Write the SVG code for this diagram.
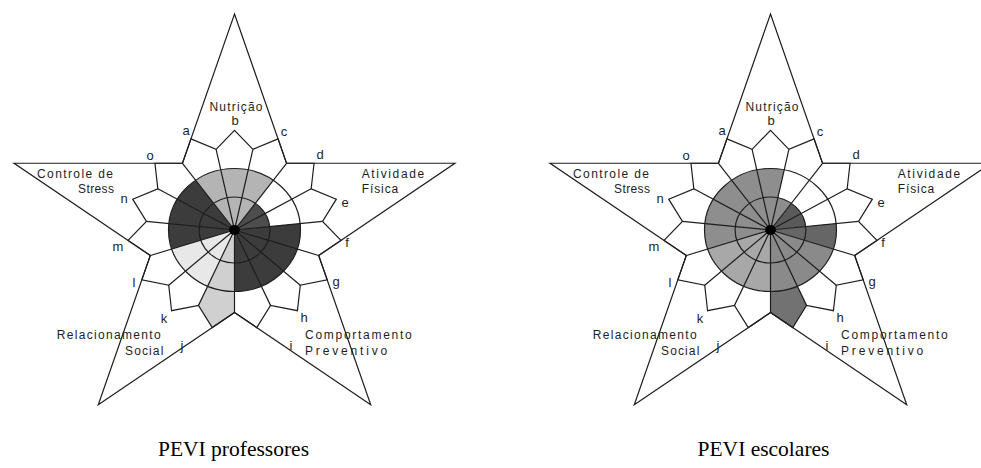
<svg xmlns="http://www.w3.org/2000/svg" width="981" height="468" viewBox="0 0 981 468">
<style>
.ln{fill:none;stroke:#1e1e1e;stroke-width:1.2;vector-effect:non-scaling-stroke;stroke-linejoin:miter}
.dot{fill:#000}
.lt{font-family:"Liberation Sans",Arial,sans-serif;font-size:13px;fill:#1e1e1e;text-anchor:middle}
.cl{font-family:"Liberation Sans",Arial,sans-serif;font-size:12px;fill:#1e1e1e}
.cap{font-family:"Liberation Serif","Times New Roman",serif;font-size:21.5px;fill:#000;text-anchor:middle}
</style>
<defs>
<g id="frame">
<path class="ln" d="M0 -216L48.49 -66.74L205.43 -66.75L78.46 25.49L126.96 174.75L0 82.5L-126.96 174.75L-78.46 25.49L-205.43 -66.75L-48.49 -66.74Z"/>
<path class="ln" d="M-48.49 -66.74L-40.58 -91.14L-17.15 -80.7L0 -99.76L17.15 -80.7L40.58 -91.14L48.49 -66.74L74.14 -66.75L71.45 -41.25L94.88 -30.83L82.05 -8.62L99.21 10.43L78.46 25.49L86.39 49.88L61.31 55.2L58.64 80.71L33.56 75.37L20.74 97.58L0 82.5L-20.74 97.58L-33.56 75.37L-58.64 80.71L-61.31 55.2L-86.39 49.88L-78.46 25.49L-99.21 10.43L-82.05 -8.62L-94.88 -30.83L-71.45 -41.25L-74.14 -66.75Z"/>
<path class="ln" d="M0 0L-48.49 -66.74M0 0L-17.15 -80.7M0 0L17.15 -80.7M0 0L48.49 -66.74M0 0L71.45 -41.25M0 0L82.05 -8.62M0 0L78.46 25.49M0 0L61.31 55.2M0 0L33.56 75.37M0 0L0 82.5M0 0L-33.56 75.37M0 0L-61.31 55.2M0 0L-78.46 25.49M0 0L-82.05 -8.62M0 0L-71.45 -41.25"/>
<circle class="ln" r="33"/>
<circle class="ln" r="61.5"/>
<circle class="dot" r="5"/>
</g>
</defs>
<rect width="981" height="468" fill="#fff"/>

<g id="pentaculo-professores">
<g transform="translate(234.5,230) scale(1.073,1)">
<path fill="#b4b4b4" d="M0 0L-36.15 -49.75A61.5 61.5 0 0 1 36.15 -49.75Z"/>
<path fill="#4d4d4d" d="M0 0L19.4 -26.7A33 33 0 0 1 32.82 -3.45Z"/>
<path fill="#3c3c3c" d="M0 0L61.16 -6.43A61.5 61.5 0 0 1 0 61.5Z"/>
<path fill="#d0d0d0" d="M0 0L0 82.5L-20.74 97.58L-33.56 75.37Z"/>
<path fill="#e8e8e8" d="M0 0L-25.01 56.18A61.5 61.5 0 0 1 -58.49 19Z"/>
<path fill="#3c3c3c" d="M0 0L-58.49 19A61.5 61.5 0 0 1 -36.15 -49.75Z"/>
<use href="#frame"/>
</g>
<g id="itens-professores">
<text class="lt" x="186" y="135">a</text>
<text class="lt" x="235" y="125">b</text>
<text class="lt" x="284" y="136">c</text>
<text class="lt" x="320" y="159">d</text>
<text class="lt" x="345" y="207">e</text>
<text class="lt" x="347" y="247">f</text>
<text class="lt" x="336" y="286">g</text>
<text class="lt" x="304" y="322">h</text>
<text class="lt" x="291" y="350">i</text>
<text class="lt" x="182" y="350">j</text>
<text class="lt" x="164" y="323">k</text>
<text class="lt" x="134" y="287">l</text>
<text class="lt" x="118" y="251">m</text>
<text class="lt" x="124" y="203">n</text>
<text class="lt" x="150" y="160">o</text>
</g>
<g id="componentes-professores">
<text class="cl" x="209.5" y="111" textLength="53" lengthAdjust="spacing">Nutrição</text>
<text class="cl" x="37" y="178" textLength="76" lengthAdjust="spacing">Controle de</text>
<text class="cl" x="78" y="192.5" textLength="36" lengthAdjust="spacing">Stress</text>
<text class="cl" x="361.7" y="178" textLength="62.6" lengthAdjust="spacing">Atividade</text>
<text class="cl" x="361.7" y="193" textLength="36.6" lengthAdjust="spacing">Física</text>
<text class="cl" x="56.7" y="338.5" textLength="104" lengthAdjust="spacing">Relacionamento</text>
<text class="cl" x="125" y="355" textLength="38.3" lengthAdjust="spacing">Social</text>
<text class="cl" x="305" y="339" textLength="106.7" lengthAdjust="spacing">Comportamento</text>
<text class="cl" x="305" y="355" textLength="82.3" lengthAdjust="spacing">Preventivo</text>
</g>
<text class="cap" x="233.5" y="456">PEVI professores</text>
</g>

<g id="pentaculo-escolares">
<g transform="translate(770.5,230) scale(1.073,1)">
<path fill="#8e8e8e" d="M0 0L-36.15 -49.75A61.5 61.5 0 0 1 12.79 -60.16Z"/>
<path fill="#8e8e8e" d="M0 0L6.86 -32.28A33 33 0 0 1 19.4 -26.7Z"/>
<path fill="#5a5a5a" d="M0 0L19.4 -26.7A33 33 0 0 1 32.82 -3.45Z"/>
<path fill="#666666" d="M0 0L61.16 -6.43A61.5 61.5 0 0 1 58.49 19Z"/>
<path fill="#8a8a8a" d="M0 0L58.49 19A61.5 61.5 0 0 1 25.01 56.18Z"/>
<path fill="#727272" d="M0 0L33.56 75.37L20.74 97.58L0 82.5Z"/>
<path fill="#8a8a8a" d="M0 0L25.01 56.18A61.5 61.5 0 0 1 0 61.5Z"/>
<path fill="#a8a8a8" d="M0 0L0 61.5A61.5 61.5 0 0 1 -58.49 19Z"/>
<path fill="#8e8e8e" d="M0 0L-58.49 19A61.5 61.5 0 0 1 -36.15 -49.75Z"/>
<use href="#frame"/>
</g>
<g id="itens-escolares">
<text class="lt" x="722" y="135">a</text>
<text class="lt" x="771" y="125">b</text>
<text class="lt" x="820" y="136">c</text>
<text class="lt" x="856" y="159">d</text>
<text class="lt" x="881" y="207">e</text>
<text class="lt" x="883" y="247">f</text>
<text class="lt" x="872" y="286">g</text>
<text class="lt" x="840" y="322">h</text>
<text class="lt" x="827" y="350">i</text>
<text class="lt" x="718" y="350">j</text>
<text class="lt" x="700" y="323">k</text>
<text class="lt" x="670" y="287">l</text>
<text class="lt" x="654" y="251">m</text>
<text class="lt" x="660" y="203">n</text>
<text class="lt" x="686" y="160">o</text>
</g>
<g id="componentes-escolares">
<text class="cl" x="745.5" y="111" textLength="53" lengthAdjust="spacing">Nutrição</text>
<text class="cl" x="573" y="178" textLength="76" lengthAdjust="spacing">Controle de</text>
<text class="cl" x="614" y="192.5" textLength="36" lengthAdjust="spacing">Stress</text>
<text class="cl" x="897.7" y="178" textLength="62.6" lengthAdjust="spacing">Atividade</text>
<text class="cl" x="897.7" y="193" textLength="36.6" lengthAdjust="spacing">Física</text>
<text class="cl" x="592.7" y="338.5" textLength="104" lengthAdjust="spacing">Relacionamento</text>
<text class="cl" x="661" y="355" textLength="38.3" lengthAdjust="spacing">Social</text>
<text class="cl" x="841" y="339" textLength="106.7" lengthAdjust="spacing">Comportamento</text>
<text class="cl" x="841" y="355" textLength="82.3" lengthAdjust="spacing">Preventivo</text>
</g>
<text class="cap" x="763.5" y="456">PEVI escolares</text>
</g>
</svg>
